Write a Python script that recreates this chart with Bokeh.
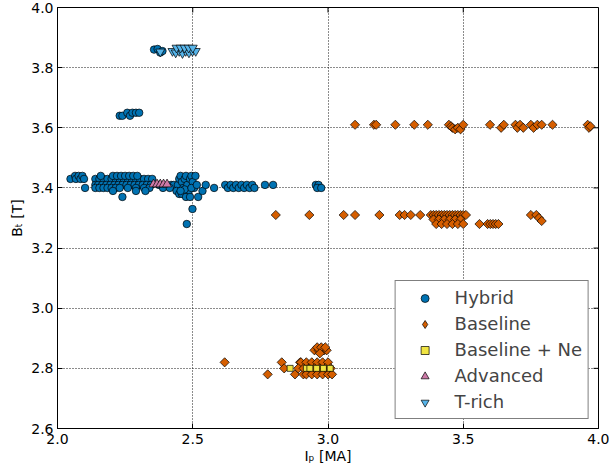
import numpy as np
from bokeh.plotting import figure
from bokeh.models import FixedTicker, Legend, LegendItem
from bokeh.embed import file_html
from bokeh.resources import INLINE

# ---------------- data ----------------
hybrid_ip = [2.048, 2.065, 2.068, 2.078, 2.085, 2.092, 2.098, 2.102,
             2.14, 2.155, 2.17, 2.185, 2.20, 2.215, 2.23, 2.245, 2.26, 2.275, 2.29, 2.305, 2.32, 2.335, 2.35,
             2.16, 2.205, 2.22, 2.235, 2.25, 2.265, 2.28, 2.295,
             2.14, 2.15, 2.165, 2.18, 2.195, 2.21, 2.225, 2.24, 2.255, 2.27, 2.285, 2.30, 2.315, 2.33, 2.345, 2.375, 2.42, 2.43, 2.445,
             2.14, 2.155, 2.17, 2.185, 2.20, 2.215, 2.23, 2.26, 2.29, 2.32, 2.34, 2.39, 2.415,
             2.205, 2.24, 2.29, 2.325, 2.44, 2.45,
             2.45, 2.455, 2.46, 2.465, 2.47, 2.475, 2.48, 2.485, 2.49, 2.495, 2.50, 2.505, 2.51, 2.46, 2.475, 2.49, 2.47, 2.495, 2.455, 2.515,
             2.52, 2.536, 2.548, 2.579, 2.499, 2.478,
             2.62, 2.63, 2.64, 2.65, 2.66, 2.67, 2.68, 2.69, 2.70, 2.71, 2.72, 2.728,
             2.767, 2.797,
             2.955, 2.965, 2.96, 2.975,
             2.23, 2.24, 2.258, 2.268, 2.277, 2.29, 2.302,
             2.357, 2.37, 2.38, 2.388]
hybrid_bt = [3.43, 3.44, 3.43, 3.44, 3.43, 3.44, 3.43, 3.40,
             3.43, 3.43, 3.43, 3.43, 3.43, 3.43, 3.43, 3.43, 3.43, 3.43, 3.43, 3.43, 3.43, 3.43, 3.43,
             3.44, 3.44, 3.44, 3.44, 3.44, 3.44, 3.44, 3.44,
             3.41, 3.41, 3.41, 3.41, 3.41, 3.41, 3.41, 3.41, 3.41, 3.41, 3.41, 3.41, 3.41, 3.41, 3.41, 3.41, 3.41, 3.41, 3.41,
             3.40, 3.40, 3.40, 3.40, 3.40, 3.40, 3.40, 3.40, 3.40, 3.40, 3.40, 3.40, 3.40,
             3.39, 3.37, 3.39, 3.39, 3.39, 3.38,
             3.43, 3.44, 3.42, 3.40, 3.43, 3.44, 3.41, 3.39, 3.43, 3.44, 3.42, 3.40, 3.44, 3.38, 3.37, 3.37, 3.395, 3.40, 3.39, 3.41,
             3.37, 3.39, 3.41, 3.40, 3.33, 3.28,
             3.41, 3.40, 3.41, 3.40, 3.41, 3.40, 3.41, 3.40, 3.41, 3.40, 3.41, 3.40,
             3.41, 3.41,
             3.41, 3.41, 3.40, 3.40,
             3.64, 3.64, 3.65, 3.64, 3.65, 3.65, 3.65,
             3.86, 3.862, 3.85, 3.855]

baseline_ip = [3.10, 3.17, 3.178, 3.249, 3.319, 3.369, 3.447, 3.455, 3.46, 3.47, 3.48, 3.49, 3.50,
               3.599, 3.64, 3.65, 3.693, 3.70, 3.71, 3.722, 3.75, 3.76, 3.774, 3.79, 3.83, 3.96, 3.965, 3.97,
               2.807, 2.931, 3.058, 3.10, 3.19, 3.265, 3.283, 3.306, 3.341,
               3.38, 3.39, 3.40, 3.41, 3.42, 3.43, 3.44, 3.45, 3.46, 3.47, 3.48, 3.49, 3.50, 3.51,
               3.39, 3.41, 3.43, 3.45, 3.47, 3.49,
               3.40, 3.42, 3.44, 3.46, 3.48, 3.50,
               3.56, 3.59, 3.60, 3.61, 3.62, 3.63, 3.75, 3.77, 3.78, 3.79,
               2.618, 2.777, 2.829, 2.838, 2.878, 2.897, 2.909,
               2.90, 2.92, 2.94, 2.96, 2.98, 3.00,
               2.89, 2.91, 2.93, 2.95, 2.97, 2.99, 3.01,
               2.92, 2.94, 2.96, 2.98, 3.00, 3.015,
               2.95, 2.965, 2.975, 2.985, 2.995, 2.96, 2.975, 2.99, 2.97]
baseline_bt = [3.61, 3.61, 3.61, 3.61, 3.61, 3.61, 3.61, 3.605, 3.60, 3.595, 3.60, 3.595, 3.61,
               3.61, 3.60, 3.61, 3.61, 3.60, 3.61, 3.60, 3.61, 3.60, 3.61, 3.61, 3.61, 3.61, 3.60, 3.605,
               3.31, 3.31, 3.31, 3.31, 3.31, 3.31, 3.31, 3.31, 3.31,
               3.31, 3.31, 3.31, 3.31, 3.31, 3.31, 3.31, 3.31, 3.31, 3.31, 3.31, 3.31, 3.31, 3.31,
               3.295, 3.295, 3.295, 3.295, 3.295, 3.295,
               3.28, 3.28, 3.28, 3.28, 3.28, 3.28,
               3.28, 3.28, 3.28, 3.28, 3.28, 3.28, 3.31, 3.31, 3.30, 3.29,
               2.82, 2.78, 2.82, 2.80, 2.78, 2.82, 2.78,
               2.82, 2.82, 2.82, 2.82, 2.82, 2.82,
               2.80, 2.80, 2.80, 2.80, 2.80, 2.80, 2.80,
               2.78, 2.78, 2.78, 2.78, 2.78, 2.78,
               2.86, 2.86, 2.86, 2.86, 2.86, 2.87, 2.87, 2.87, 2.85]

ne_ip = [2.86, 2.92, 2.933, 2.958, 2.983, 3.008]
ne_bt = [2.80, 2.80, 2.80, 2.80, 2.80, 2.80]

adv_ip = [2.355, 2.368, 2.38, 2.392, 2.405]
adv_bt = [3.412, 3.412, 3.412, 3.412, 3.412]

trich_ip = [2.38, 2.425, 2.437, 2.45, 2.462, 2.474, 2.486, 2.499, 2.511, 2.44, 2.455, 2.47, 2.485, 2.50]
trich_bt = [3.853, 3.855, 3.85, 3.855, 3.848, 3.855, 3.85, 3.855, 3.855, 3.866, 3.866, 3.866, 3.866, 3.866]

x_ticks = [2.0, 2.5, 3.0, 3.5, 4.0]
x_tick_labels = ["2.0", "2.5", "3.0", "3.5", "4.0"]
y_ticks = [2.6, 2.8, 3.0, 3.2, 3.4, 3.6, 3.8, 4.0]
y_tick_labels = ["2.6", "2.8", "3.0", "3.2", "3.4", "3.6", "3.8", "4.0"]
X_MIN, X_MAX = 2.0, 4.0
Y_MIN, Y_MAX = 2.6, 4.0

FONT = "DejaVu Sans"

p = figure(x_range=(X_MIN, X_MAX), y_range=(Y_MIN, Y_MAX),
           width=609, height=474,
           min_border_left=57, min_border_right=11, min_border_top=7, min_border_bottom=46,
           output_backend="svg", toolbar_location=None, background_fill_color="white",
           border_fill_color="white")
p.outline_line_color = "black"
p.outline_line_width = 1

for ax in (p.xaxis[0], p.yaxis[0]):
    ax.axis_line_color = "black"
    ax.major_tick_line_color = "black"
    ax.major_tick_in = 5
    ax.major_tick_out = 0
    ax.minor_tick_line_color = None
    ax.major_label_text_font = FONT
    ax.major_label_text_font_size = "14px"
    ax.major_label_text_color = "black"
    ax.axis_label_text_font = FONT
    ax.axis_label_text_font_size = "14px"
    ax.axis_label_text_font_style = "normal"
    ax.axis_label_text_color = "black"

p.xaxis.ticker = FixedTicker(ticks=x_ticks)
p.yaxis.ticker = FixedTicker(ticks=y_ticks)
p.xaxis.major_label_overrides = dict(zip(x_ticks, x_tick_labels))
p.yaxis.major_label_overrides = dict(zip(y_ticks, y_tick_labels))
p.xaxis.major_label_standoff = 5
p.yaxis.major_label_standoff = 4
p.xaxis.axis_label = "I\u209a [MA]"
p.yaxis.axis_label = "B\u209c [T]"
p.xaxis.axis_label_standoff = 1
p.yaxis.axis_label_standoff = 3

p.xgrid.ticker = FixedTicker(ticks=x_ticks)
p.ygrid.ticker = FixedTicker(ticks=y_ticks)
p.grid.grid_line_color = "black"
p.grid.grid_line_dash = "1 2"
p.grid.grid_line_alpha = 0.9

# inward ticks on the top and right edges
p.ray(x=x_ticks, y=[Y_MAX] * len(x_ticks), length=5, length_units="screen",
      angle=-np.pi / 2, line_color="black", line_width=1)
p.ray(x=[X_MAX] * len(y_ticks), y=y_ticks, length=5, length_units="screen",
      angle=np.pi, line_color="black", line_width=1)

mk = dict(line_color="black", line_width=0.7)
r_h = p.scatter(hybrid_ip, hybrid_bt, marker="circle", size=7.5, fill_color="#0072B2", **mk)
r_b = p.scatter(baseline_ip, baseline_bt, marker="square", angle=np.pi / 4, size=6.5,
                fill_color="#D55E00", **mk)
r_n = p.scatter(ne_ip, ne_bt, marker="square", size=6, fill_color="#F0E442", **mk)
r_a = p.scatter(adv_ip, adv_bt, marker="triangle", size=9, fill_color="#CC79A7", **mk)
r_t = p.scatter(trich_ip, trich_bt, marker="inverted_triangle", size=9, fill_color="#56B4E9", **mk)
# legend swatch for the diamonds (legend glyphs ignore marker rotation); hidden in the plot
r_b_key = p.scatter(baseline_ip, baseline_bt, marker="diamond", size=12,
                    fill_color="#D55E00", visible=False, **mk)

legend = Legend(items=[LegendItem(label="Hybrid", renderers=[r_h]),
                       LegendItem(label="Baseline", renderers=[r_b_key]),
                       LegendItem(label="Baseline + Ne", renderers=[r_n]),
                       LegendItem(label="Advanced", renderers=[r_a]),
                       LegendItem(label="T-rich", renderers=[r_t])],
                location="bottom_right", margin=9, padding=6, spacing=5,
                glyph_width=46, glyph_height=20, label_height=20, label_standoff=7,
                label_text_font=FONT, label_text_font_size="18px",
                border_line_color="black", border_line_width=1,
                background_fill_color="white", background_fill_alpha=1.0,
                inactive_fill_alpha=0.0)
p.add_layout(legend)

open("out.html", "w").write(file_html(p, INLINE))
